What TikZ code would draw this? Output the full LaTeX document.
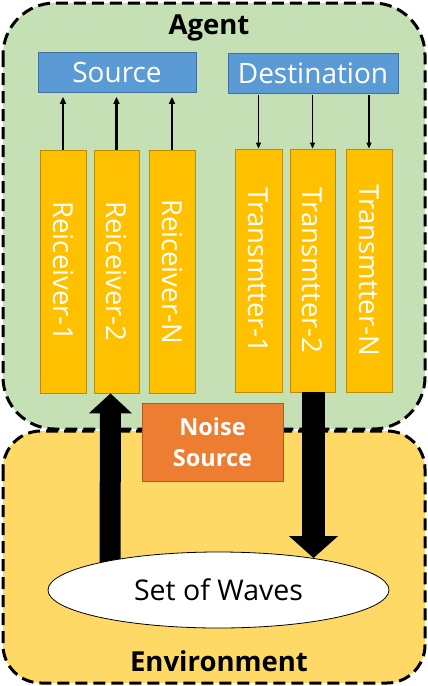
\documentclass[tikz,border=0pt]{standalone}
\usepackage{fontspec}
\setmainfont{Open Sans}
\usetikzlibrary{arrows.meta,shapes.geometric,calc}
\definecolor{agentfill}{HTML}{C5E0B4}
\definecolor{envfill}{HTML}{FFD966}
\definecolor{bluefill}{HTML}{5B9BD5}
\definecolor{blueedge}{HTML}{41719C}
\definecolor{goldfill}{HTML}{FFC000}
\definecolor{goldedge}{HTML}{BC8C00}
\definecolor{orangefill}{HTML}{ED7D31}
\definecolor{orangeedge}{HTML}{AE5A21}
\begin{document}
\begin{tikzpicture}[x=1pt,y=-1pt,
  region/.style={draw=black, line width=3pt, dash pattern=on 12pt off 6pt},
  regionlabel/.style={font=\bfseries\fontsize{27.5}{30}\selectfont, inner sep=0pt},
  topbox/.style={draw=blueedge, fill=bluefill, line width=0.8pt, text=white,
    font=\fontsize{28}{30}\selectfont, inner sep=0pt, minimum height=40pt},
  chan/.style={draw=goldedge, fill=goldfill, line width=0.8pt, text=white,
    font=\fontsize{27.5}{30}\selectfont, inner sep=0pt, rotate=-90,
    minimum width=243pt, minimum height=46pt},
  noisebox/.style={draw=orangeedge, fill=orangefill, line width=0.8pt, text=white,
    font=\bfseries\fontsize{23.5}{31}\selectfont, inner sep=0pt, align=center,
    minimum width=141pt, minimum height=78pt},
  wavebox/.style={ellipse, draw=black, fill=white, line width=0.8pt,
    font=\fontsize{28.5}{30}\selectfont, inner sep=0pt,
    minimum width=341pt, minimum height=76pt},
  uparrow/.style={line width=2.2pt, -{Triangle[length=7pt,width=6pt]}},
  downarrow/.style={line width=1.3pt, -{Triangle[length=6pt,width=5pt]}},
  bigarrow/.style={line width=21pt, -{Triangle[length=20pt,width=42pt]}},
  bigarrowb/.style={line width=23pt, -{Triangle[length=22pt,width=48pt]}}
]
\useasboundingbox (0,0) rectangle (428,686);
% regions
\draw[region, fill=agentfill, rounded corners=52pt] (3,3) rectangle (425,429);
\draw[region, fill=envfill, rounded corners=38pt] (3,431) rectangle (425,683);
\node[regionlabel] (agent) at (209,28) {Agent};
\node[regionlabel] (env) at (219,661) {Environment};
% top boxes
\node[topbox, minimum width=158pt] (src) at (117,72.5) {Source};
\node[topbox, minimum width=170pt] (dst) at (313,73) {Destination};
% channels
\node[chan] (r1) at (63,271.5) {Reiceiver-1};
\node[chan, minimum height=45pt] (r2) at (116.5,271.5) {Reiceiver-2};
\node[chan] (rn) at (172,271.5) {Reiceiver-N};
\node[chan, minimum height=47pt] (t1) at (258.5,270.5) {Transmtter-1};
\node[chan, minimum height=45pt] (t2) at (312.5,270.5) {Transmtter-2};
\node[chan] (tn) at (369,270.5) {Transmtter-N};
% thin arrows
\foreach \r in {r1,r2,rn}
  \draw[uparrow, shorten >=4pt] (\r.west) -- (\r.west |- src.south);
\foreach \t in {t1,t2,tn}
  \draw[downarrow, shorten <=2pt] (\t.west |- dst.south) -- (\t.west);
% waves and big arrows
\coordinate (wc) at (218.5,590);
\coordinate (lbase) at ($(wc)+(-108.5,-20)$);
\draw[bigarrow] (lbase) -- ([xshift=-6pt]r2.east);
\node[wavebox] (waves) at (wc) {Set of Waves};
\draw[bigarrowb] ([xshift=1pt]t2.east) -- ($(waves.center)+(95,-32)$);
% noise
\node[noisebox] (noise) at (212.5,442) {Noise\\Source};
\end{tikzpicture}
\end{document}
